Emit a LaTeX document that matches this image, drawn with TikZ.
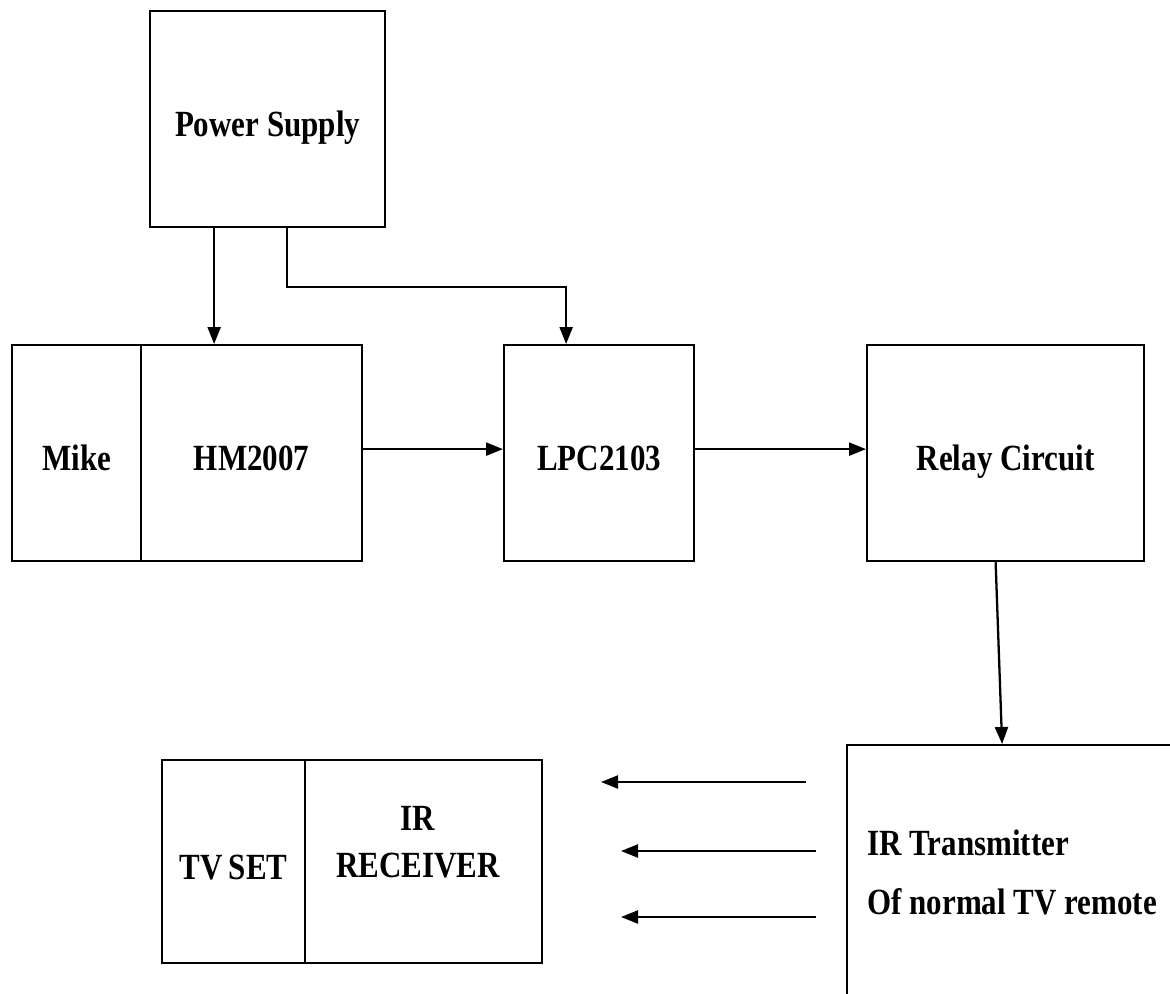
\documentclass[tikz,border=0pt]{standalone}
\usepackage{fontspec}
\setmainfont[FakeStretch=0.84]{Liberation Serif}
\usetikzlibrary{arrows.meta}

\begin{document}
\begin{tikzpicture}[
    x=0.02cm, y=-0.02cm,
    block/.style={draw, rectangle, inner sep=0pt, anchor=north west,
      minimum height=4.32cm},
    oneline/.style={text height=0.7cm, text depth=0pt},
    link/.style={-{Triangle[length=0.34cm,width=0.26cm]}},
    font=\bfseries\fontsize{21}{27}\selectfont,
  line width=1.3pt, line join=miter]

  \useasboundingbox (0,0) rectangle (1170,994);
  \clip (0,0) rectangle (1170,994);

  % power supply
  \node [block, oneline, minimum width=4.70cm] (psupply) at (149,10) {Power Supply};

  % mike + voice recognition chip
  \node [block, oneline, minimum width=2.58cm] (mike) at (11,344) {Mike};
  \node [block, oneline, minimum width=4.42cm] (hm) at (140,344) {HM2007};

  % controller
  \node [block, oneline, minimum width=3.80cm] (lpc) at (503,344) {LPC2103};

  % relay
  \node [block, oneline, minimum width=5.54cm] (relay) at (866,344) {Relay Circuit};

  % transmitter (runs off the page)
  \node [block, minimum width=6.60cm, minimum height=5.10cm, align=left]
    (irtx) at (846,744) {IR Transmitter\\[0.24cm]Of normal TV remote};

  % tv set + receiver
  \node [block, oneline, minimum width=2.86cm, minimum height=4.06cm] (tvset) at (161,759) {TV\,SET};
  \node [block, minimum width=4.74cm, minimum height=4.06cm] (irrx) at (304,759) {};
  \node [align=center] (irrxtext) at (418,842) {IR\\RECEIVER};

  % supply lines
  \draw [link] ([xshift=-1.07cm]psupply.south) -- ([xshift=-1.07cm]psupply.south |- hm.north);
  \draw [link] ([xshift=0.39cm]psupply.south) -- ++(0,59) -| ([xshift=-0.66cm]lpc.north);

  % signal path
  \draw [link] ([yshift=0.08cm]hm.east) -- ([yshift=0.08cm]hm.east -| lpc.west);
  \draw [link] ([yshift=0.08cm]lpc.east) -- ([yshift=0.08cm]lpc.east -| relay.west);
  \draw [link] ([xshift=-0.2cm]relay.south) -- ([xshift=-0.2cm]irtx.north);

  % ir rays
  \foreach \ys/\xs/\xe [count=\i] in {782/806/601, 851/816/621, 917/816/621}{
    \coordinate (ray\i s) at (\xs,\ys);
    \coordinate (ray\i e) at (\xe,\ys);
    \draw [link] (ray\i s) -- (ray\i e);
  }
\end{tikzpicture}
\end{document}
